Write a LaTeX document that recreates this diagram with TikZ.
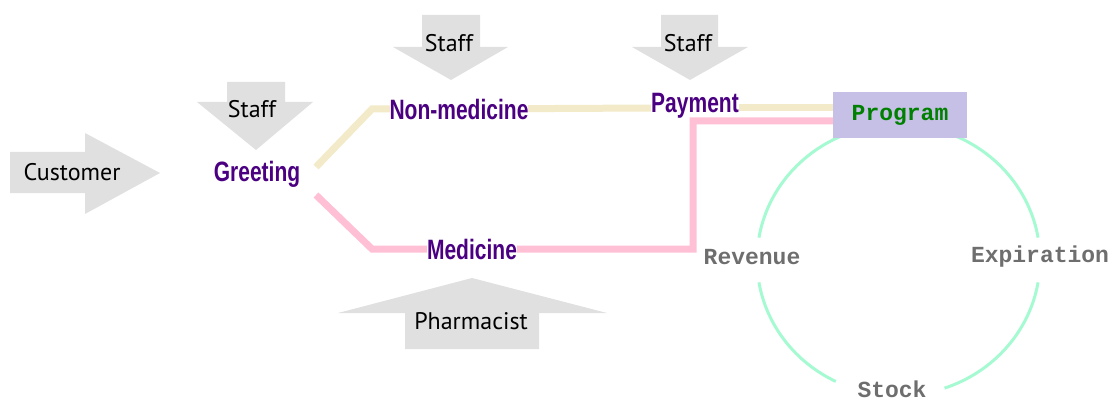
\documentclass[tikz,border=0pt]{standalone}
\usepackage{fontspec}
\setmainfont{PT Sans}
\newfontfamily\stagefont{Liberation Sans}[FakeStretch=0.75]
\newfontfamily\progfont{Liberation Mono}
\usetikzlibrary{backgrounds}
\definecolor{arrowgray}{HTML}{E0E0E0}
\definecolor{stagecol}{HTML}{4B0082}
\definecolor{modgray}{HTML}{6E6E6E}
\definecolor{proggreen}{HTML}{008000}
\definecolor{progfill}{HTML}{C6BFE6}
\definecolor{beige}{HTML}{F2EAC8}
\definecolor{pinkline}{HTML}{FFC0D5}
\definecolor{ringgreen}{HTML}{A6FAD2}

\begin{document}
\begin{tikzpicture}[x=1pt,y=1pt]
	\tikzstyle{every node}+=[inner sep=0pt]
	\tikzstyle{actor}=[font=\fontsize{24}{24}\selectfont, text=black]
	\tikzstyle{stage}=[font=\stagefont\bfseries\fontsize{28}{28}\selectfont, text=stagecol, fill=white]
	\tikzstyle{module}=[font=\progfont\bfseries\fontsize{23}{23}\selectfont, text=modgray]
	\tikzstyle{progbox}=[font=\progfont\bfseries\fontsize{23}{23}\selectfont, text=proggreen, fill=progfill, minimum width=134, minimum height=46]
	\tikzstyle{nonmedline}=[draw=beige, line width=7]
	\tikzstyle{medline}=[draw=pinkline, line width=7]
	\tikzstyle{ring}=[draw=ringgreen, line width=3]
	\useasboundingbox (0,0) rectangle (1119,-401);
	\fill [arrowgray] (10,-152) -- (85,-152) -- (85,-133) -- (160,-173) -- (85,-214) -- (85,-193) -- (10,-193) -- cycle;
	\fill [arrowgray] (227,-82) -- (285,-82) -- (285,-102) -- (313,-102) -- (256,-150) -- (197,-102) -- (227,-102) -- cycle;
	\fill [arrowgray] (422,-15) -- (480,-15) -- (480,-47) -- (508,-47) -- (451,-80) -- (393,-47) -- (422,-47) -- cycle;
	\fill [arrowgray] (661,-15) -- (718,-15) -- (718,-47) -- (748,-47) -- (690,-80) -- (632,-47) -- (661,-47) -- cycle;
	\fill [arrowgray] (405,-349) -- (539,-349) -- (539,-313) -- (607,-313) -- (472,-278) -- (338,-313) -- (405,-313) -- cycle;
	\node [actor] (customer) at (72,-172) {Customer};
	\node [actor] (staffa) at (252,-109) {Staff};
	\node [actor] (staffb) at (449,-43) {Staff};
	\node [actor] (staffc) at (688,-43) {Staff};
	\node [actor] (pharm) at (471,-321) {Pharmacist};
	\node [stage] (greet) at (257,-174) {Greeting};
	\node [stage] (nonmed) at (459,-109) {Non-medicine};
	\node [stage, fill=none] (pay) at (695,-106) {Payment};
	\node [stage] (med) at (472,-249) {Medicine};
	\node [progbox] (prog) at (900,-115) {Program};
	\node [module] (rev) at (752,-257) {Revenue};
	\node [module] (expi) at (1040,-257) {Expiration};
	\node [module] (stock) at (892,-389) {Stock};
	\coordinate (g1) at (316,-167);
	\coordinate (g2) at (316,-195);
	\coordinate (n1) at (372,-109);
	\coordinate (m1) at (372,-249);
	\coordinate (p1) at (693,-249);
	\coordinate (hub) at (898.5,-260);
	\begin{scope}[on background layer]
	\draw [nonmedline] (g1) -- (n1) -- (nonmed.center) -- ([yshift=-2]pay.west);
	\draw [nonmedline] ([yshift=-2]pay.east) -- ([yshift=7]prog.west);
	\draw [medline] (g2) -- (m1) -- (med.center) -- (p1) |- ([yshift=-6]prog.west);
	\draw [ring] ([shift={(112:141.5 and 135.5)}]hub) arc [start angle=112, end angle=170.5, x radius=141.5, y radius=135.5];
	\draw [ring] ([shift={(189.5:141.5 and 135.5)}]hub) arc [start angle=189.5, end angle=243.7, x radius=141.5, y radius=135.5];
	\draw [ring] ([shift={(289:141.5 and 135.5)}]hub) arc [start angle=289, end angle=350.5, x radius=141.5, y radius=135.5];
	\draw [ring] ([shift={(9.5:141.5 and 135.5)}]hub) arc [start angle=9.5, end angle=68, x radius=141.5, y radius=135.5];
	\end{scope}
\end{tikzpicture}
\end{document}
